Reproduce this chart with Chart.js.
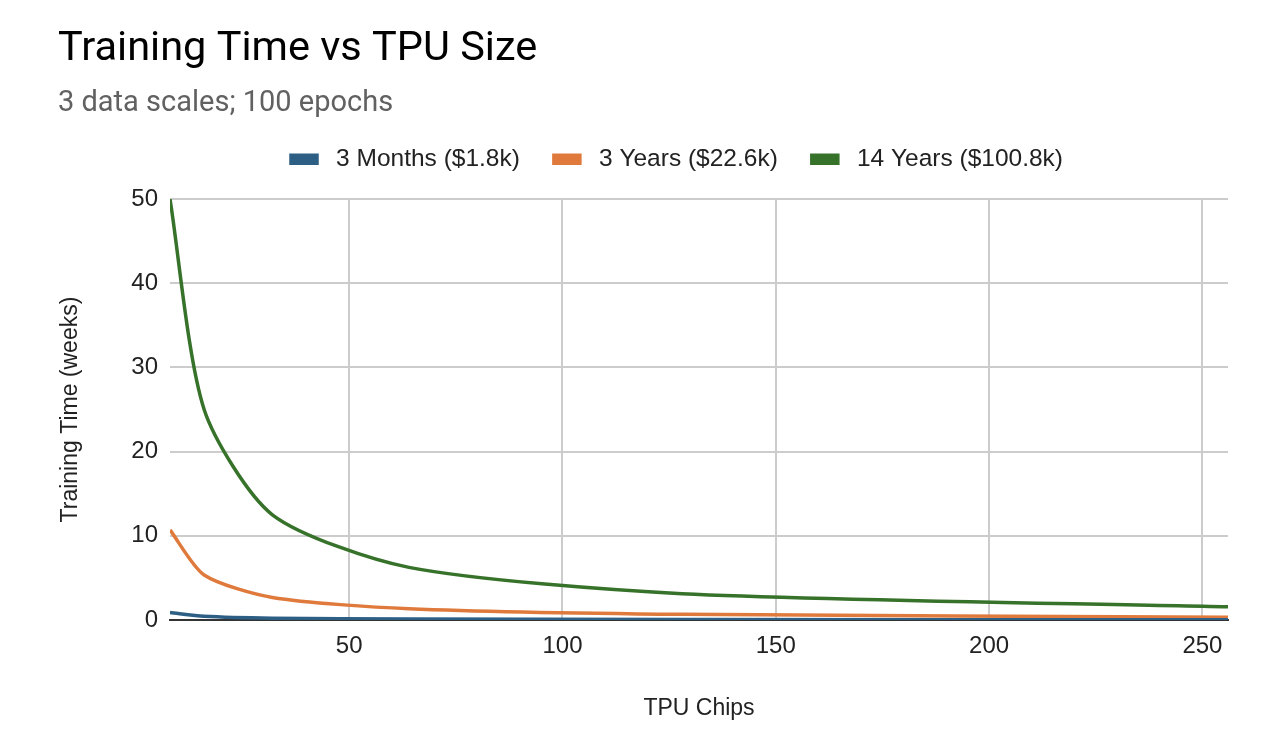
<!DOCTYPE html>
<html>
<head>
<meta charset="utf-8">
<title>Training Time vs TPU Size</title>
<script src="https://cdn.jsdelivr.net/npm/chart.js@4/dist/chart.umd.min.js"></script>
<style>
    html, body { margin: 0; padding: 0; background: #ffffff; }
    #wrap { width: 1288px; height: 756px; }
</style>
</head>
<body>
<div id="wrap"><canvas id="chart"></canvas></div>
<script>
// values
var chips = [8, 16, 32, 64, 128, 256];
var months3 = [0.89, 0.45, 0.22, 0.11, 0.06, 0.03];
var years3 = [10.7, 5.35, 2.68, 1.34, 0.67, 0.33];
var years14 = [50, 25, 12.5, 6.25, 3.13, 1.56];

var seriesNames = ['3 Months ($1.8k)', '3 Years ($22.6k)', '14 Years ($100.8k)'];
var seriesColors = ['#2d5f85', '#e07a3c', '#37722a'];
var xTicks = [50, 100, 150, 200, 250];
var yTicks = [0, 10, 20, 30, 40, 50];

function toPoints(values) {
    var pts = [];
    for (var i = 0; i < chips.length; i++) {
        pts.push({ x: chips[i], y: values[i] });
    }
    return pts;
}

var allSeries = [months3, years3, years14];
var datasets = [];
for (var s = 0; s < allSeries.length; s++) {
    datasets.push({
        label: seriesNames[s],
        data: toPoints(allSeries[s]),
        borderColor: seriesColors[s],
        backgroundColor: seriesColors[s],
        borderWidth: 3.5,
        pointRadius: 0,
        tension: 0.25,
        fill: false
    });
}

var legendTweak = {
    id: 'legendTweak',
    beforeInit: function (chart) {
        var fit = chart.legend.fit;
        chart.legend.fit = function () {
            fit.bind(chart.legend)();
            this.height = 86;
        };
    },
    afterLayout: function (chart) {
        // legend in the reference sits a little right of centre
        chart.legend.left += 34;
        chart.legend.right += 34;
    }
};

var sans = "'Liberation Sans', Arial, sans-serif";

var config = {
    type: 'line',
    data: { datasets: datasets },
    plugins: [legendTweak],
    options: {
        responsive: true,
        maintainAspectRatio: false,
        animation: false,
        layout: {
            padding: { left: 58, right: 60, top: 0, bottom: 0 }
        },
        plugins: {
            title: {
                display: true,
                text: 'Training Time vs TPU Size',
                align: 'start',
                color: '#000000',
                font: { family: 'Roboto', size: 41.5, weight: 'normal' },
                padding: { top: 25, bottom: 6 }
            },
            subtitle: {
                display: true,
                text: '3 data scales; 100 epochs',
                align: 'start',
                color: '#616161',
                font: { family: 'Roboto', size: 29, weight: 'normal' },
                padding: { top: 5.5, bottom: -8 }
            },
            legend: {
                position: 'top',
                labels: {
                    color: '#222222',
                    font: { family: sans, size: 24.5 },
                    boxWidth: 26,
                    boxHeight: 8,
                    padding: 34,
                    generateLabels: function (chart) {
                        var items = Chart.defaults.plugins.legend.labels.generateLabels(chart);
                        items.forEach(function (it) { it.text = ' ' + it.text; });
                        return items;
                    }
                }
            },
            tooltip: { enabled: false }
        },
        scales: {
            x: {
                type: 'linear',
                min: 8,
                max: 256,
                afterBuildTicks: function (scale) {
                    scale.ticks = xTicks.map(function (v) { return { value: v }; });
                },
                afterFit: function (scale) { scale.height = 136; },
                grid: {
                    color: '#cccccc',
                    lineWidth: 2,
                    drawTicks: false
                },
                border: { display: true, color: '#333333', width: 2 },
                ticks: {
                    color: '#222222',
                    font: { family: sans, size: 24 },
                    padding: 12,
                    maxRotation: 0
                },
                title: {
                    display: true,
                    text: 'TPU Chips',
                    color: '#222222',
                    font: { family: sans, size: 23 },
                    padding: { top: 0, bottom: 34 }
                }
            },
            y: {
                type: 'linear',
                min: 0,
                max: 50,
                afterBuildTicks: function (scale) {
                    scale.ticks = yTicks.map(function (v) { return { value: v }; });
                },
                afterFit: function (scale) { scale.width = 112; },
                grid: {
                    color: function (ctx) { return ctx.tick && ctx.tick.value === 0 ? '#333333' : '#cccccc'; },
                    lineWidth: 2,
                    drawTicks: false
                },
                border: { display: false },
                ticks: {
                    color: '#222222',
                    font: { family: sans, size: 24 },
                    padding: 12
                },
                title: {
                    display: true,
                    text: 'Training Time (weeks)',
                    color: '#222222',
                    font: { family: sans, size: 23 },
                    padding: { top: -1, bottom: 4 }
                }
            }
        }
    }
};

var ctx = document.getElementById('chart').getContext('2d');
window.trainingChart = new Chart(ctx, config);
</script>
</body>
</html>
